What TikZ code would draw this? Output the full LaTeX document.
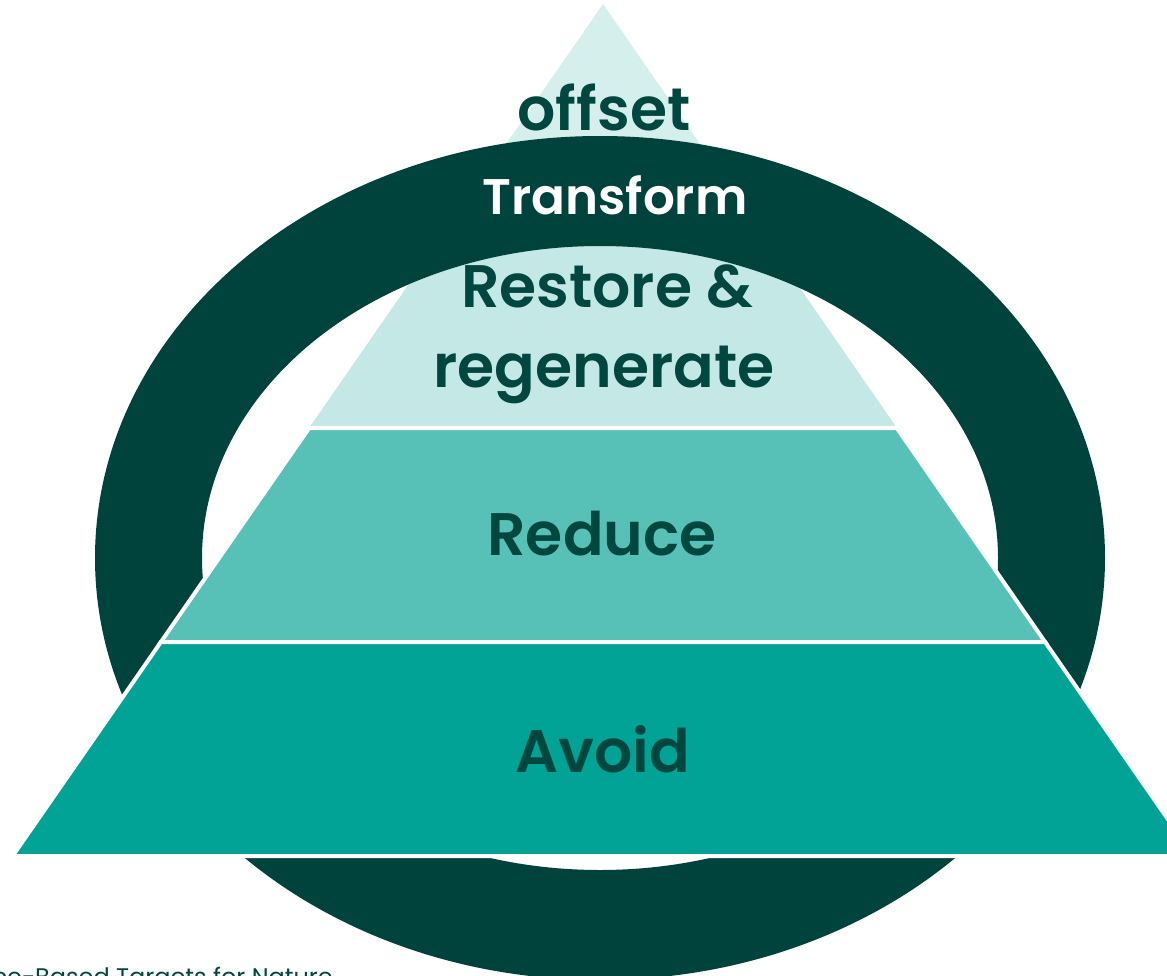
\documentclass[tikz,border=0pt]{standalone}
\usepackage{fontspec}
\setmainfont{Poppins}
\newfontfamily\labfont{Poppins SemiBold}
\definecolor{offsetcol}{HTML}{D5EFEC}
\definecolor{restorecol}{HTML}{C3E8E5}
\definecolor{reducecol}{HTML}{57C1B8}
\definecolor{avoidcol}{HTML}{00A396}
\definecolor{ringcol}{HTML}{00433C}
\definecolor{textcol}{HTML}{004740}
\tikzset{
  tier/.style={draw=white, line width=4pt, line join=miter},
  lab/.style={font=\labfont\fontsize{60}{60}\selectfont, text=textcol, inner sep=0pt, anchor=base},
  srclab/.style={font=\fontsize{24}{24}\selectfont, text=textcol, inner sep=0pt, anchor=base east}
}
\begin{document}
\begin{tikzpicture}[x=1pt,y=-1pt]
\useasboundingbox (0,0) rectangle (1167,975);
\clip (0,0) rectangle (1167,975);
% pyramid corners
\coordinate (apex) at (603,4);
\coordinate (l1) at (309.2,428);
\coordinate (r1) at (896.8,428);
\coordinate (l2) at (160.9,642);
\coordinate (r2) at (1045.1,642);
\coordinate (l3) at (12.6,856);
\coordinate (r3) at (1193.4,856);
\coordinate (c) at (600,558);
% top tier
\fill[offsetcol] (apex) -- (l1) -- (r1) -- cycle;
\begin{scope}
  \clip (c) ellipse [x radius=398, y radius=312];
  \fill[restorecol] (apex) -- (l1) -- (r1) -- cycle;
\end{scope}
% ring
\fill[ringcol, even odd rule] (c) ellipse [x radius=505, y radius=422]
                             (c) ellipse [x radius=398, y radius=312];
% lower tiers
\filldraw[tier, fill=reducecol] (l1) -- (r1) -- (r2) -- (l2) -- cycle;
\filldraw[tier, fill=avoidcol] (l2) -- (r2) -- (r3) -- (l3) -- cycle;
% labels
\node[lab] (offset) at (604,130) {offset};
\node[lab, text=white, font=\labfont\fontsize{50}{50}\selectfont] (transform) at (615,214) {Transform};
\node[lab] (restore) at (607,307) {Restore \&};
\node[lab] (regen) at (604,387) {regenerate};
\node[lab] (reduce) at (602,555) {Reduce};
\node[lab] (avoid) at (603,772) {Avoid};
\node[srclab] (src) at (333,985) {Science-Based Targets for Nature};
\end{tikzpicture}
\end{document}
